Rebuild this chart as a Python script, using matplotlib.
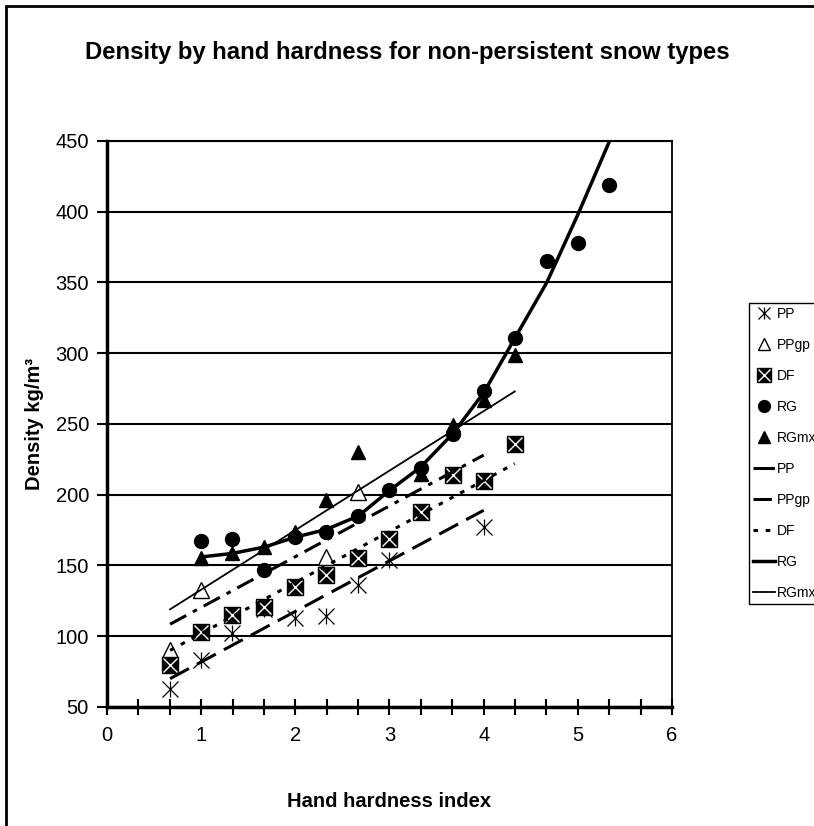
#imports for plotting
import numpy as np
import matplotlib.pyplot as plt
from matplotlib.legend_handler import HandlerTuple
from matplotlib.patches import Rectangle
from matplotlib.ticker import MultipleLocator

plt.rcParams['font.family'] = ['Liberation Sans', 'DejaVu Sans']

#measured densities by hand hardness index, one pair of lists per snow type
pp_x = [0.67, 1, 1.33, 1.67, 2, 2.33, 2.67, 3, 4]
pp_y = [63, 83, 102, 119, 113, 114, 136, 154, 177]

ppgp_x = [0.67, 1, 2.33, 2.67]
ppgp_y = [90, 133, 156, 202]

df_x = [0.67, 1, 1.33, 1.67, 2, 2.33, 2.67, 3, 3.33, 3.67, 4, 4.33]
df_y = [80, 103, 115, 121, 135, 143, 155, 169, 188, 214, 210, 236]

rg_x = [1, 1.33, 1.67, 2, 2.33, 2.67, 3, 3.33, 3.67, 4, 4.33, 4.67, 5, 5.33]
rg_y = [167, 169, 147, 170, 174, 185, 203, 219, 243, 273, 311, 365, 378, 419]

rgmx_x = [1, 1.33, 1.67, 2, 2.33, 2.67, 3.33, 3.67, 4, 4.33]
rgmx_y = [155, 159, 163, 174, 196, 230, 215, 249, 267, 299]

#trend lines
pp_trend_x = [0.67, 4]
pp_trend_y = [70, 189]

ppgp_trend_x = [0.67, 4]
ppgp_trend_y = [108.5, 228]

df_trend_x = [0.67, 4.33]
df_trend_y = [90, 222]

rg_trend_x = [1, 1.33, 1.67, 2, 2.33, 2.67, 3, 3.33, 3.67, 4, 4.33, 4.67, 5, 5.33]
rg_trend_y = [156, 158.5, 163, 170, 175.5, 185, 203, 219.5, 243, 272, 310.5, 350, 398, 449]

rgmx_trend_x = [0.67, 4.33]
rgmx_trend_y = [119, 273]

x_ticks = [0, 1, 2, 3, 4, 5, 6]
y_ticks = [50, 100, 150, 200, 250, 300, 350, 400, 450]

fig = plt.figure(figsize=(8.14, 8.26), dpi=100)
ax = fig.add_axes([0.1314, 0.1441, 0.6942, 0.6852])

#scatter markers
pp_a, = ax.plot(pp_x, pp_y, 'x', color='black', ms=11, mew=0.9, zorder=3)
pp_b, = ax.plot(pp_x, pp_y, '|', color='black', ms=11, mew=0.9, zorder=3)
ppgp_h, = ax.plot(ppgp_x, ppgp_y, '^', mfc='white', mec='black', ms=11, mew=1.0, zorder=3)
df_a, = ax.plot(df_x, df_y, 's', color='black', ms=11.5, zorder=3)
df_b, = ax.plot(df_x, df_y, 'x', color='white', ms=10, mew=1.0, zorder=3)
rg_h, = ax.plot(rg_x, rg_y, 'o', color='black', ms=10, zorder=3)
rgmx_h, = ax.plot(rgmx_x, rgmx_y, '^', color='black', ms=10, zorder=3)

#trend lines
pp_l, = ax.plot(pp_trend_x, pp_trend_y, color='black', lw=2.2, dashes=(7, 3), zorder=4)
ppgp_l, = ax.plot(ppgp_trend_x, ppgp_trend_y, color='black', lw=2.2, dashes=(6, 2.5, 1.5, 2.5), zorder=4)
df_l, = ax.plot(df_trend_x, df_trend_y, color='black', lw=2.2, dashes=(1.5, 2.5), zorder=4)
rg_l, = ax.plot(rg_trend_x, rg_trend_y, color='black', lw=2.5, zorder=4)
rgmx_l, = ax.plot(rgmx_trend_x, rgmx_trend_y, color='black', lw=1.3, zorder=4)

#axes customization
ax.set_xlim(0, 6)
ax.set_ylim(50, 450)
ax.set_xticks(x_ticks)
ax.set_yticks(y_ticks)
ax.xaxis.set_minor_locator(MultipleLocator(1 / 3))
ax.tick_params(axis='x', which='both', direction='inout', length=11, width=1.5, labelsize=14.5, pad=8)
ax.tick_params(axis='y', direction='out', length=7, width=1.5, labelsize=14.5, pad=6)
ax.yaxis.grid(True, color='black', linewidth=1.5)
ax.set_axisbelow(True)
ax.spines['left'].set_linewidth(2.5)
ax.spines['bottom'].set_linewidth(2.5)
ax.spines['top'].set_linewidth(1.5)
ax.spines['right'].set_linewidth(1.3)

fig.suptitle("Density by hand hardness for non-persistent snow types", x=0.5, y=1 - 52 / 826,
             va='center', fontsize=17.2, fontweight='bold')
ax.set_xlabel("Hand hardness index", fontsize=14.5, fontweight='bold')
ax.xaxis.set_label_coords(0.5, -0.15)
ax.set_ylabel("Density kg/m³", fontsize=14.5, fontweight='bold')
ax.yaxis.set_label_coords(-0.112, 0.5)

#legend sticking out past the right edge like the original
handles = [(pp_a, pp_b), ppgp_h, (df_a, df_b), rg_h, rgmx_h, pp_l, ppgp_l, df_l, rg_l, rgmx_l]
labels = ["PP", "PPgp", "DF", "RG", "RGmx", "PP", "PPgp", "DF", "RG", "RGmx"]
leg = fig.legend(handles, labels, loc='upper left', bbox_to_anchor=(749 / 814, 1 - 303 / 826),
                 handler_map={tuple: HandlerTuple(ndivide=1)}, fontsize=10, frameon=True,
                 fancybox=False, edgecolor='black', framealpha=1, borderpad=0.3,
                 handlelength=1.55, handletextpad=0.15, labelspacing=1.22, borderaxespad=0,
                 markerscale=0.85)
leg.get_frame().set_linewidth(1.0)

#outer chart border
fig.patches.append(Rectangle((6 / 814, -0.05), 1.1, 1.05 - 6 / 826, transform=fig.transFigure,
                             fill=False, edgecolor='black', linewidth=2))

plt.savefig("out.png", dpi=100)
